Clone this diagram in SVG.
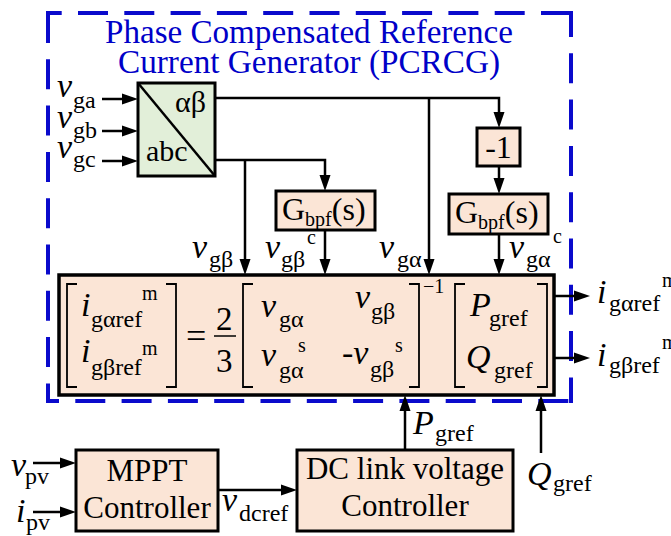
<svg xmlns="http://www.w3.org/2000/svg" width="671" height="536" viewBox="0 0 671 536">
<defs>
<style>
text{font-family:"Liberation Serif","Times New Roman",serif;fill:#000}
.t{font-size:33px;fill:#0000c8}
.v{font-size:34px;font-style:italic}
.s{font-size:24px}
.p{font-size:20px}
.b{font-size:31px}
.g{font-size:32px}
.gs{font-size:20px}
.box{fill:#fbe5d6;stroke:#000;stroke-width:3}
.grn{fill:#e2efd9;stroke:#000;stroke-width:3}
.w{fill:none;stroke:#000;stroke-width:2.5}
.a{fill:none;stroke:#000;stroke-width:2.5;marker-end:url(#ah)}
.br{fill:none;stroke:#000;stroke-width:1.8}
.d{stroke:#0a0acc;stroke-width:4;stroke-dasharray:30 16.3;fill:none}
</style>
<marker id="ah" markerUnits="userSpaceOnUse" markerWidth="16" markerHeight="12" refX="8" refY="6" orient="auto">
<path d="M0,0.5 L16,6 L0,11.5 z" fill="#000"/>
</marker>
</defs>
<rect width="671" height="536" fill="#fff"/>

<g id="pcrcg-frame">
<line class="d" x1="46" y1="13" x2="573" y2="13" stroke-dashoffset="14.3"/>
<line class="d" x1="571" y1="11" x2="571" y2="403" stroke-dashoffset="4"/>
<line class="d" x1="46" y1="401" x2="573" y2="401" stroke-dashoffset="17"/>
<line class="d" x1="48" y1="11" x2="48" y2="403" stroke-dashoffset="-2"/>
<text class="t" x="309" y="43" text-anchor="middle" textLength="408" lengthAdjust="spacingAndGlyphs">Phase Compensated Reference</text>
<text class="t" x="309" y="73" text-anchor="middle" textLength="382" lengthAdjust="spacingAndGlyphs">Current Generator (PCRCG)</text>
</g>

<g id="abc-ab">
<rect class="grn" x="138" y="83" width="77" height="93"/>
<line x1="138" y1="83" x2="215" y2="176" stroke="#000" stroke-width="2.5"/>
<text x="175" y="112" style="font-size:30px">αβ</text>
<text x="146" y="161" style="font-size:30px">abc</text>
</g>

<g id="neg1">
<rect class="box" x="477" y="128" width="43" height="38"/>
<text class="g" x="498.5" y="158" text-anchor="middle">-1</text>
</g>

<g id="gbpf-left">
<rect class="box" x="276" y="191" width="99" height="39"/>
<text x="282" y="220"><tspan class="g">G</tspan><tspan class="gs" dy="6">bpf</tspan><tspan class="g" dy="-6">(s)</tspan></text>
</g>

<g id="gbpf-right">
<rect class="box" x="449" y="194" width="99" height="40"/>
<text x="455" y="223"><tspan class="g">G</tspan><tspan class="gs" dy="6">bpf</tspan><tspan class="g" dy="-6">(s)</tspan></text>
</g>

<g id="matrix">
<rect x="59" y="275" width="495" height="120" fill="#fbe5d6" stroke="#000" stroke-width="3.5"/>
<path class="br" d="M77,284 H67 V387 H77"/>
<path class="br" d="M166,284 H176 V387 H166"/>
<text class="v" x="81" y="316">i</text>
<text class="s" x="91" y="327">gαref</text>
<text class="p" x="142" y="300">m</text>
<text class="v" x="81" y="362">i</text>
<text class="s" x="91" y="375">gβref</text>
<text class="p" x="142" y="355">m</text>
<text x="186" y="348" style="font-size:36px">=</text>
<text x="216" y="330" style="font-size:33px">2</text>
<line x1="214" y1="336" x2="236" y2="336" stroke="#000" stroke-width="1.5"/>
<text x="216" y="372" style="font-size:33px">3</text>
<path class="br" d="M253,284 H243 V387 H253"/>
<path class="br" d="M409,284 H419 V387 H409"/>
<text class="p" x="423" y="293">−1</text>
<text class="v" x="261" y="317">v</text>
<text class="s" x="279" y="327">gα</text>
<text class="v" x="355" y="308">v</text>
<text class="s" x="371" y="319">gβ</text>
<text class="v" x="261" y="366">v</text>
<text class="s" x="279" y="378">gα</text>
<text class="p" x="298" y="352">s</text>
<text class="v" x="342" y="364">-v</text>
<text class="s" x="370" y="377">gβ</text>
<text class="p" x="395" y="352">s</text>
<path class="br" d="M465,284 H455 V387 H465"/>
<path class="br" d="M537,284 H547 V387 H537"/>
<text class="v" x="470" y="316">P</text>
<text class="s" x="489" y="326">gref</text>
<text class="v" x="466" y="368">Q</text>
<text class="s" x="494" y="378">gref</text>
</g>

<g id="mppt">
<rect class="box" x="76" y="450" width="142" height="81"/>
<text class="b" x="147" y="481" text-anchor="middle">MPPT</text>
<text class="b" x="147" y="518" text-anchor="middle">Controller</text>
</g>

<g id="dc-link">
<rect class="box" x="297" y="450" width="216" height="81"/>
<text class="b" x="405" y="479" text-anchor="middle">DC link voltage</text>
<text class="b" x="405" y="516" text-anchor="middle">Controller</text>
</g>

<g id="connectors">
<line class="a" x1="102" y1="99" x2="130" y2="99"/>
<line class="a" x1="102" y1="131" x2="130" y2="131"/>
<line class="a" x1="102" y1="161" x2="130" y2="161"/>
<polyline class="a" points="215,98 499,98 499,120"/>
<line class="a" x1="429" y1="98" x2="429" y2="267"/>
<polyline class="a" points="215,160 325,160 325,183"/>
<line class="a" x1="245" y1="160" x2="245" y2="267"/>
<line class="a" x1="325" y1="230" x2="325" y2="267"/>
<line class="a" x1="499" y1="166" x2="499" y2="186"/>
<line class="a" x1="499" y1="234" x2="499" y2="267"/>
<line class="a" x1="554" y1="296" x2="582" y2="296"/>
<line class="a" x1="554" y1="358" x2="582" y2="358"/>
<line class="a" x1="405" y1="450" x2="405" y2="403"/>
<line class="a" x1="541" y1="453" x2="541" y2="403"/>
<line class="a" x1="218" y1="490" x2="289" y2="490"/>
<line class="a" x1="33" y1="463" x2="68" y2="463"/>
<line class="a" x1="33" y1="512" x2="68" y2="512"/>
</g>

<g id="labels">
<text class="v" x="57" y="97">v</text><text class="s" x="73" y="108">ga</text>
<text class="v" x="57" y="128">v</text><text class="s" x="73" y="138">gb</text>
<text class="v" x="57" y="158">v</text><text class="s" x="73" y="167">gc</text>
<text class="v" x="192" y="258">v</text><text class="s" x="209" y="267">gβ</text>
<text class="v" x="265" y="258">v</text><text class="s" x="281" y="267">gβ</text><text class="p" x="307" y="244">c</text>
<text class="v" x="379" y="258">v</text><text class="s" x="397" y="267">gα</text>
<text class="v" x="509" y="258">v</text><text class="s" x="526" y="267">gα</text><text class="p" x="553" y="243">c</text>
<text class="v" x="597" y="303">i</text><text class="s" x="609" y="311">gαref</text><text class="p" x="662" y="287">m</text>
<text class="v" x="597" y="366">i</text><text class="s" x="609" y="373">gβref</text><text class="p" x="662" y="349">m</text>
<text class="v" x="413" y="434">P</text><text class="s" x="435" y="441">gref</text>
<text class="v" x="527" y="485">Q</text><text class="s" x="553" y="491">gref</text>
<text class="v" x="11" y="476">v</text><text class="s" x="25" y="484">pv</text>
<text class="v" x="16" y="522">i</text><text class="s" x="26" y="530">pv</text>
<text class="v" x="222" y="511">v</text><text class="s" x="239" y="521">dcref</text>
</g>
</svg>
